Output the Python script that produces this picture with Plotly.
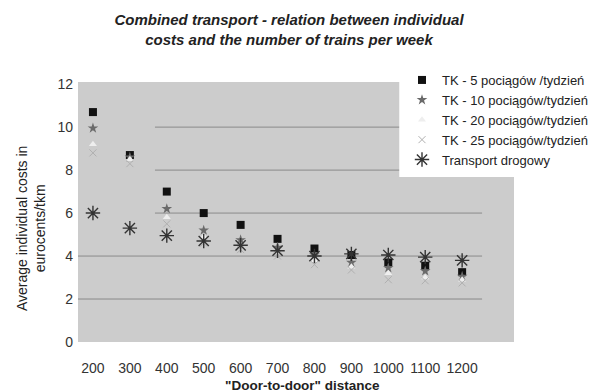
import plotly.graph_objects as go

# Door-to-door distance categories (km)
distances = ["200", "300", "400", "500", "600", "700", "800", "900", "1000", "1100", "1200"]

# Average individual costs (eurocents/tkm)
tk_5 = [10.7, 8.7, 7.0, 6.0, 5.45, 4.8, 4.35, 4.05, 3.7, 3.55, 3.25]
tk_10 = [9.95, 8.6, 6.2, 5.2, 4.75, 4.4, 4.05, 3.7, 3.45, 3.3, 3.05]
tk_20 = [9.2, 8.5, 5.8, 4.9, 4.5, 4.2, 3.8, 3.5, 3.2, 3.0, 2.9]
tk_25 = [8.8, 8.3, 5.5, 4.6, 4.3, 4.0, 3.6, 3.35, 2.9, 2.85, 2.75]
road = [6.0, 5.3, 4.95, 4.7, 4.5, 4.25, 4.0, 4.1, 4.05, 3.95, 3.8]

y_ticks = [0, 2, 4, 6, 8, 10, 12]

FONT = "Liberation Sans, Arial, sans-serif"
TEXT = "#222222"

W, H = 604, 392
L, R, T, B = 78, 89, 82, 50
pw, ph = W - L - R, H - T - B


def px_x(px):
    return (px - L) / pw


def px_y(py):
    return (H - B - py) / ph


x_idx = list(range(len(distances)))

fig = go.Figure()

series = [
    ("TK - 5 pociągów /tydzień", tk_5, dict(symbol="square", size=8, color="#111111")),
    ("TK - 10 pociągów/tydzień", tk_10, dict(symbol="star", size=8, color="#6a6a6a")),
    ("TK - 20 pociągów/tydzień", tk_20, dict(symbol="triangle-up", size=7, color="#eeeeee")),
    ("TK - 25 pociągów/tydzień", tk_25, dict(symbol="x-thin-open", size=7, color="#b0b0b0",
                                              line=dict(width=1, color="#b0b0b0"))),
    ("Transport drogowy", road, dict(symbol="asterisk-open", size=12, color="#333333",
                                      line=dict(width=1.4, color="#333333"))),
]

for name, vals, marker in series:
    fig.add_trace(go.Scatter(x=x_idx, y=vals, mode="markers", name=name, marker=marker))

# Horizontal gridlines
shapes = []
for yv in [2, 4]:
    shapes.append(dict(type="line", xref="x", yref="y", x0=-0.405, x1=10.54, y0=yv, y1=yv,
                       line=dict(color="#8a8a8a", width=1), layer="below"))
for yv in [6, 8, 10]:
    shapes.append(dict(type="line", xref="x", yref="y", x0=1.68, x1=10.54, y0=yv, y1=yv,
                       line=dict(color="#8a8a8a", width=1), layer="below"))

# White panel behind the legend
shapes.append(dict(type="rect", xref="paper", yref="paper",
                   x0=px_x(400), x1=px_x(W), y0=px_y(177), y1=px_y(58),
                   fillcolor="white", line=dict(width=0), layer="above"))

annotations = [
    dict(text="Average individual costs in<br>eurocents/tkm", textangle=-90,
         xref="paper", yref="paper", x=px_x(31), y=px_y(228),
         xanchor="center", yanchor="middle", showarrow=False,
         font=dict(size=14, color=TEXT, family=FONT)),
    dict(text='<b>"Door-to-door" distance</b>',
         xref="paper", yref="paper", x=px_x(303), y=px_y(385),
         xanchor="center", yanchor="middle", showarrow=False,
         font=dict(size=13.5, color=TEXT, family=FONT)),
]

fig.update_layout(
    width=W, height=H,
    margin=dict(l=L, r=R, t=T, b=B),
    paper_bgcolor="white",
    plot_bgcolor="#cccccc",
    font=dict(family=FONT, color=TEXT, size=11),
    title=dict(
        text="<b><i>Combined transport - relation between individual<br>costs and the number of trains per week</i></b>",
        x=289 / W, xanchor="center", y=1 - 25 / H, yanchor="middle",
        font=dict(size=15, color=TEXT, family=FONT),
    ),
    xaxis=dict(
        range=[-0.405, 11.405],
        tickvals=x_idx, ticktext=distances,
        showgrid=False, zeroline=False, showline=False, ticks="",
        tickfont=dict(size=14, color="#333333"),
        ticklabelstandoff=16,
    ),
    yaxis=dict(
        range=[0, 12.1],
        tickvals=y_ticks,
        showgrid=False, zeroline=False, showline=False, ticks="",
        tickfont=dict(size=14, color="#333333"),
        ticklabelstandoff=4,
    ),
    legend=dict(
        x=px_x(402), xanchor="left",
        y=px_y(65), yanchor="top",
        bgcolor="rgba(255,255,255,0)",
        font=dict(size=13, color=TEXT),
        itemwidth=30,
        tracegroupgap=0,
    ),
    shapes=shapes,
    annotations=annotations,
    showlegend=True,
)

fig.write_html("out.html")
